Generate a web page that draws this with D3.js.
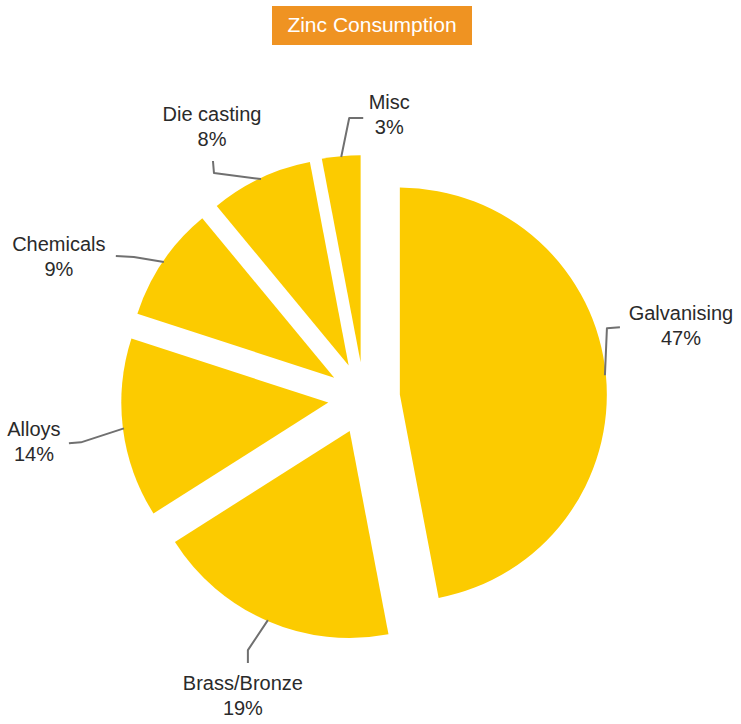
<!DOCTYPE html>
<html>
<head>
<meta charset="utf-8">
<script src="https://cdn.jsdelivr.net/npm/d3@7"></script>
<style>
  html, body { margin: 0; padding: 0; background: #fff; }
  svg { display: block; }
</style>
</head>
<body>
<svg id="chart" width="741" height="724"></svg>
<script>
// Zinc consumption by end use (percent)
const categories = ["Galvanising", "Brass/Bronze", "Alloys", "Chemicals", "Die casting", "Misc"];
const shares = [47, 19, 14, 9, 8, 3];
const chartTitle = "Zinc Consumption";

// Leader-line elbows and label anchors, relative to where each leader leaves its slice
const leaderLayout = [
  { elbow: [[2, -47], [15, -48]],  label: [76, -55] },
  { elbow: [[-20, 30], [-20, 43]], label: [-25, 70] },
  { elbow: [[-43, 14], [-55, 15]], label: [-90, 8] },
  { elbow: [[-30, -5], [-48, -6]], label: [-105, -11] },
  { elbow: [[-47, -6], [-48, -18]], label: [-49, -58] },
  { elbow: [[8, -39], [22, -39]],  label: [48, -48] }
];

const svg = d3.select("#chart");
const cx = 364, cy = 398;
const radius = 207;
const explode = 36;
const sliceColor = "#fccb00";

const pie = d3.pie().sort(null).startAngle(0).endAngle(2 * Math.PI).value(d => d.value);
const arc = d3.arc().innerRadius(0).outerRadius(radius);

const data = categories.map((c, i) => ({ name: c, value: shares[i], layout: leaderLayout[i] }));
const arcs = pie(data);

const g = svg.append("g").attr("transform", `translate(${cx},${cy})`);

function offsetOf(a) {
  const mid = (a.startAngle + a.endAngle) / 2;
  return [Math.sin(mid) * explode, -Math.cos(mid) * explode];
}

g.selectAll("path.slice")
  .data(arcs)
  .join("path")
  .attr("class", "slice")
  .attr("d", arc)
  .attr("fill", sliceColor)
  .attr("transform", d => `translate(${offsetOf(d)})`);

// Leaders and labels
const lab = g.selectAll("g.lab").data(arcs).join("g").attr("class", "lab");

lab.each(function (d) {
  const sel = d3.select(this);
  const [ox, oy] = offsetOf(d);
  const mid = (d.startAngle + d.endAngle) / 2;
  const sx = ox + Math.sin(mid) * (radius - 1);
  const sy = oy - Math.cos(mid) * (radius - 1);
  const pts = [[sx, sy]].concat(d.data.layout.elbow.map(p => [sx + p[0], sy + p[1]]));
  sel.append("path")
    .attr("d", d3.line()(pts))
    .attr("fill", "none")
    .attr("stroke", "#707070")
    .attr("stroke-width", 2)
    .attr("stroke-linejoin", "round");
  const lx = sx + d.data.layout.label[0];
  const ly = sy + d.data.layout.label[1];
  const t = sel.append("text")
    .attr("x", lx).attr("y", ly)
    .attr("text-anchor", "middle")
    .attr("font-family", "'Liberation Sans', Arial, sans-serif")
    .attr("font-size", 20)
    .attr("fill", "#2a2a2a");
  t.append("tspan").attr("x", lx).attr("y", ly).text(d.data.name);
  t.append("tspan").attr("x", lx).attr("y", ly + 25).text(d.data.value + "%");
});

// Title badge
const title = svg.append("g");
title.append("rect")
  .attr("x", 272).attr("y", 6).attr("width", 200).attr("height", 39)
  .attr("fill", "#ef9322");
title.append("text")
  .attr("x", 372).attr("y", 32)
  .attr("text-anchor", "middle")
  .attr("font-family", "'Liberation Sans', Arial, sans-serif")
  .attr("font-size", 21)
  .attr("fill", "#ffffff")
  .text(chartTitle);
</script>
</body>
</html>
